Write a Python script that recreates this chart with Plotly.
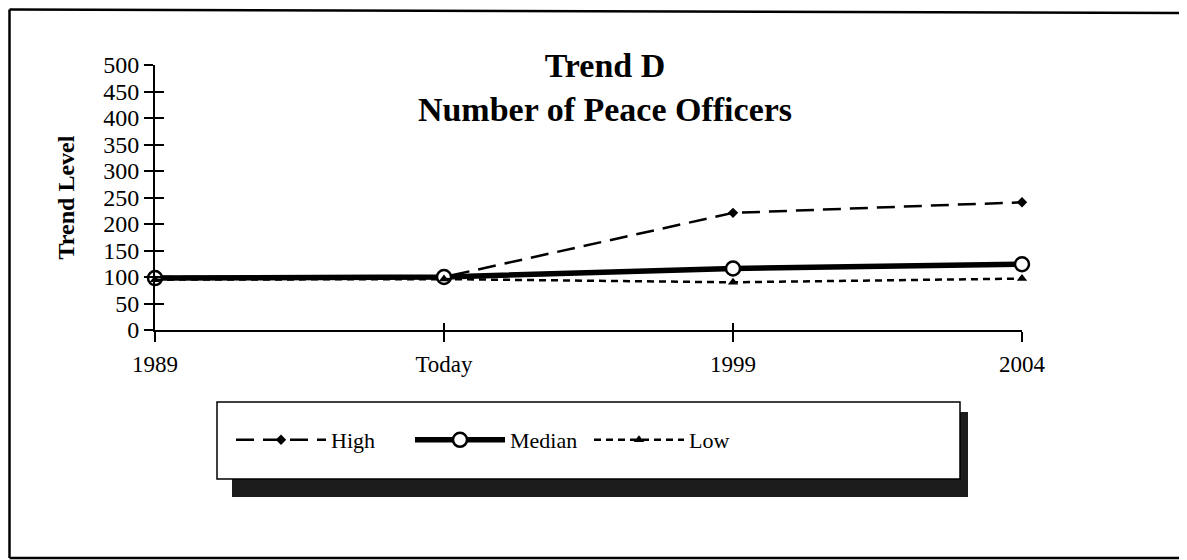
import plotly.graph_objects as go

categories = ["1989", "Today", "1999", "2004"]
high = [100, 100, 221, 241]
median = [98, 100, 116, 124]
low = [95, 96, 90, 97]
y_ticks = [0, 50, 100, 150, 200, 250, 300, 350, 400, 450, 500]

# page body has an 8px margin; figure coordinates = screen coordinates - 8
OFF = 8
W, H = 1179, 552
L, R, T, B = 155 - OFF, W - (1022 - OFF), 65 - OFF, H - (330 - OFF)

serif = "Liberation Serif, Times New Roman, serif"

fig = go.Figure()
fig.add_trace(go.Scatter(
    x=categories, y=high, name="High", mode="lines+markers",
    line=dict(color="black", width=2.5, dash="18px,9px"),
    marker=dict(symbol="diamond", size=8, color="black"),
    cliponaxis=False,
))
fig.add_trace(go.Scatter(
    x=categories, y=median, name="Median", mode="lines+markers",
    line=dict(color="black", width=5.5),
    marker=dict(symbol="circle", size=14, color="white", line=dict(color="black", width=2.5)),
    cliponaxis=False,
))
fig.add_trace(go.Scatter(
    x=categories, y=low, name="Low", mode="lines+markers",
    line=dict(color="black", width=2.5, dash="7px,5px"),
    marker=dict(symbol="triangle-up", size=9, color="black"),
    cliponaxis=False,
))


def px(x):
    return (x - OFF - L) / (W - L - R)


def py(y):
    return (H - B - (y - OFF)) / (H - T - B)


shapes = [
    # legend shadow
    dict(type="rect", xref="paper", yref="paper", x0=px(232), x1=px(968), y0=py(497), y1=py(412),
         fillcolor="#1c1c1c", line=dict(width=0), layer="below"),
    # legend box
    dict(type="rect", xref="paper", yref="paper", x0=px(217), x1=px(960), y0=py(479), y1=py(402),
         fillcolor="white", line=dict(color="black", width=1.5), layer="below"),
    # outer frame (left, top, bottom; no right edge)
    dict(type="line", xref="paper", yref="paper", x0=px(9.5), x1=px(1186), y0=py(9.5), y1=py(13),
         line=dict(color="black", width=2.5)),
    dict(type="line", xref="paper", yref="paper", x0=px(9.5), x1=px(9.5), y0=py(9.5), y1=py(558),
         line=dict(color="black", width=2.5)),
    dict(type="line", xref="paper", yref="paper", x0=px(9.5), x1=px(1186), y0=py(558), y1=py(558),
         line=dict(color="black", width=2.5)),
]

fig.update_layout(
    width=W, height=H,
    margin=dict(l=L, r=R, t=T, b=B),
    paper_bgcolor="white", plot_bgcolor="white",
    font=dict(family=serif, color="black", size=22),
    title=dict(
        text="<b>Trend D<br>Number of Peace Officers</b>",
        x=(605 - OFF) / W, xanchor="center", y=1 - (77 - OFF) / H, yanchor="top",
        font=dict(family=serif, size=34, color="black"),
    ),
    showlegend=True,
    legend=dict(
        orientation="h", x=px(231), xanchor="left", y=py(440), yanchor="middle",
        bgcolor="rgba(0,0,0,0)", borderwidth=0,
        font=dict(family=serif, size=22, color="black"),
        itemwidth=90, entrywidth=74, entrywidthmode="pixels",
    ),
    xaxis=dict(
        type="category", range=[0, 3], showgrid=False, zeroline=False,
        showline=True, linecolor="black", linewidth=2,
        ticks="outside", ticklen=10, tickwidth=2, tickcolor="black",
        tickfont=dict(family=serif, size=23), ticklabelstandoff=2,
    ),
    yaxis=dict(
        range=[0, 500], tickvals=y_ticks, showgrid=False, zeroline=False,
        showline=True, linecolor="black", linewidth=2,
        ticks="outside", ticklen=9, tickwidth=2, tickcolor="black",
        tickfont=dict(family=serif, size=24),
        title=dict(text="<b>Trend Level</b>", font=dict(family=serif, size=24), standoff=22),
    ),
    xaxis2=dict(overlaying="x", matches="x", type="category", range=[0, 3], showgrid=False,
                showline=False, ticks="inside", ticklen=7, tickwidth=2, tickcolor="black",
                showticklabels=False, anchor="y", side="bottom"),
    yaxis2=dict(overlaying="y", range=[0, 500], tickvals=y_ticks, showgrid=False, showline=False,
                ticks="inside", ticklen=9, tickwidth=2, tickcolor="black",
                showticklabels=False, anchor="x", side="left", zeroline=False),
    shapes=shapes,
)
# invisible trace to activate the secondary (inside-tick) axes
fig.add_trace(go.Scatter(x=categories, y=median, xaxis="x2", yaxis="y2", mode="lines",
                         line=dict(width=0), showlegend=False, hoverinfo="skip", opacity=0))

fig.write_html("out.html")
